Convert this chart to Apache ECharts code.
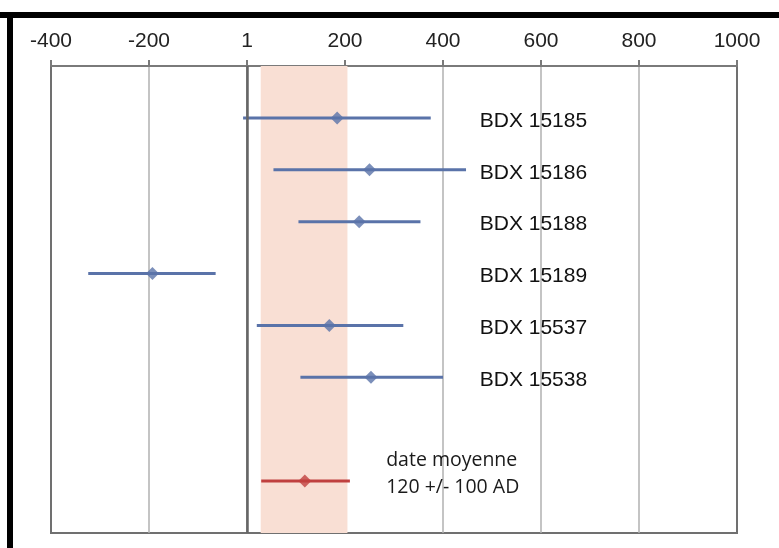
<!DOCTYPE html>
<html><head><meta charset="utf-8">
<script src="https://cdn.jsdelivr.net/npm/echarts@6/dist/echarts.min.js"></script>
<style>html,body{margin:0;padding:0;background:#fff}#c{width:779px;height:548px}</style>
</head><body><div id="c"></div>
<script>
// ---- data ----
const sampleNames = ['BDX 15185','BDX 15186','BDX 15188','BDX 15189','BDX 15537','BDX 15538'];
const sampleRows  = [1,2,3,4,5,6];
const sampleLow   = [-8, 54, 105, -324, 20, 109];
const sampleMid   = [184, 250, 229, -193, 168, 253];
const sampleHigh  = [375, 447, 354, -64, 319, 400];
const meanRow = 8;
const meanLow = 29, meanMid = 118, meanHigh = 210;
const meanText = ['date moyenne', '120 +/- 100 AD'];
const bandRange = [28, 205];
const xTicks = [-400, -200, 0, 200, 400, 600, 800, 1000];
const xTickLabels = ['-400','-200','1','200','400','600','800','1000'];
const labelX = 475;
const meanTextX = 284, meanTextY = 7.86;

const blue = '#5a73a9', red = '#c0403f';

const chart = echarts.init(document.getElementById('c'), null, {renderer:'canvas'});

function barRender(color){
  return function(params, api){
    const a = api.coord([api.value(0), api.value(2)]);
    const b = api.coord([api.value(1), api.value(2)]);
    return {type:'line', shape:{x1:a[0],y1:a[1],x2:b[0],y2:b[1]}, style:{stroke:color, lineWidth:3}};
  };
}

const option = {
  animation:false,
  backgroundColor:'#fff',
  grid:{left:51, right:42, top:66, bottom:15, show:true, borderColor:'#707070', borderWidth:2, backgroundColor:'transparent'},
  xAxis:{
    type:'value', position:'top', min:-400, max:1000, interval:200,
    axisLine:{show:true, lineStyle:{color:'#7a7a7a', width:2}},
    axisTick:{show:true, length:6, lineStyle:{color:'#7a7a7a', width:2}},
    axisLabel:{margin:14, fontFamily:'Liberation Sans, Arial, sans-serif', fontSize:21, color:'#222',
      formatter:function(v){ const i = xTicks.indexOf(v); return i>=0 ? xTickLabels[i] : ''; }},
    splitLine:{show:true, lineStyle:{color:['#707070','#b0b0b0','#6a6a6a','#b0b0b0','#b0b0b0','#b0b0b0','#b0b0b0','#707070'], width:1.5}}
  },
  yAxis:{type:'value', min:0, max:9, inverse:true, show:false},
  series:[
    {
      type:'custom', renderItem:function(){return {type:'group', children:[]};}, data:[[0,0,0]], silent:true, z:0,
      markArea:{silent:true, itemStyle:{color:'#f9dfd4'}, data:[[{xAxis:bandRange[0]},{xAxis:bandRange[1]}]]},
      markLine:{silent:true, symbol:'none', label:{show:false}, lineStyle:{color:'#666', width:2.5, type:'solid'}, data:[{xAxis:0}]}
    },
    {
      type:'custom', renderItem:barRender(blue), z:3,
      data: sampleRows.map((r,i)=>[sampleLow[i], sampleHigh[i], r])
    },
    {
      type:'custom', renderItem:barRender(red), z:3,
      data: [[meanLow, meanHigh, meanRow]]
    },
    {
      type:'scatter', symbol:'diamond', symbolSize:13, itemStyle:{color:blue}, z:4,
      data: sampleRows.map((r,i)=>[sampleMid[i], r])
    },
    {
      type:'scatter', symbol:'diamond', symbolSize:13, itemStyle:{color:red}, z:4,
      data: [[meanMid, meanRow]]
    },
    {
      type:'custom', z:5,
      renderItem:function(params, api){
        const p = api.coord([labelX, api.value(1)]);
        return {type:'text', x:p[0], y:p[1]+3, style:{text:sampleNames[params.dataIndex], fill:'#111',
          font:'21px "Liberation Sans", Arial, sans-serif', textAlign:'left', textVerticalAlign:'middle'}};
      },
      data: sampleRows.map((r,i)=>[labelX, r])
    },
    {
      type:'custom', z:5,
      renderItem:function(params, api){
        const p = api.coord([meanTextX, meanTextY]);
        return {type:'text', x:p[0], y:p[1], style:{text:meanText.join('\n'), fill:'#1a1a1a', lineHeight:27,
          font:'19.5px "Open Sans", sans-serif', textAlign:'left', textVerticalAlign:'middle'}};
      },
      data: [[meanTextX, meanTextY]]
    }
  ],
  graphic:[
    {type:'rect', shape:{x:0, y:12, width:779, height:6}, style:{fill:'#000'}, z:100},
    {type:'rect', shape:{x:7, y:12, width:6, height:536}, style:{fill:'#000'}, z:100}
  ]
};
chart.setOption(option);
</script>
</body></html>
